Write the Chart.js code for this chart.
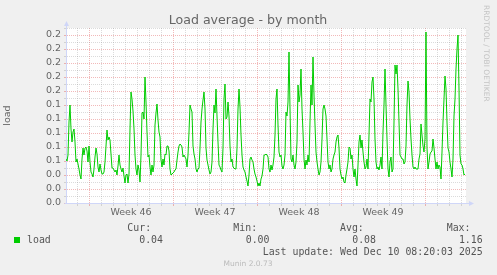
<!DOCTYPE html>
<html><head><meta charset="utf-8">
<script src="https://cdn.jsdelivr.net/npm/chart.js@4.4.1/dist/chart.umd.min.js"></script>
<style>html,body{margin:0;padding:0;background:#F0F0F0;overflow:hidden}canvas{display:block}</style>
</head><body>
<canvas id="c" width="497" height="275"></canvas>
<script>
// ---- data (2-hour samples, oldest first) ----
const loadValues = [
0.063,0.060,0.068,0.116,0.140,0.106,0.087,0.101,0.106,0.087,
0.059,0.063,0.056,0.049,0.040,0.034,0.063,0.078,0.068,0.079,
0.080,0.075,0.059,0.082,0.059,0.044,0.042,0.037,0.049,0.066,
0.079,0.070,0.051,0.044,0.056,0.047,0.042,0.042,0.044,0.059,
0.082,0.104,0.090,0.094,0.090,0.070,0.050,0.050,0.047,0.044,
0.047,0.040,0.053,0.069,0.055,0.049,0.044,0.050,0.039,0.028,
0.040,0.042,0.028,0.042,0.106,0.159,0.149,0.132,0.106,0.068,
0.049,0.040,0.054,0.047,0.030,0.068,0.128,0.130,0.120,0.180,
0.144,0.101,0.066,0.068,0.051,0.040,0.054,0.044,0.054,0.111,
0.128,0.142,0.118,0.101,0.094,0.061,0.051,0.063,0.054,0.070,
0.068,0.082,0.081,0.075,0.049,0.040,0.042,0.043,0.044,0.047,
0.049,0.061,0.073,0.082,0.085,0.083,0.080,0.066,0.068,0.066,
0.063,0.051,0.068,0.101,0.140,0.135,0.130,0.082,0.070,0.063,
0.049,0.044,0.049,0.050,0.078,0.116,0.135,0.147,0.159,0.135,
0.078,0.061,0.054,0.047,0.042,0.045,0.059,0.106,0.140,0.128,
0.163,0.125,0.087,0.054,0.051,0.047,0.044,0.078,0.149,0.170,
0.120,0.123,0.144,0.125,0.082,0.059,0.063,0.051,0.050,0.049,
0.049,0.078,0.135,0.163,0.137,0.097,0.068,0.051,0.047,0.044,
0.037,0.031,0.025,0.040,0.063,0.066,0.061,0.059,0.049,0.042,
0.037,0.032,0.025,0.029,0.025,0.034,0.039,0.049,0.068,0.068,
0.070,0.069,0.066,0.049,0.044,0.054,0.047,0.054,0.066,0.097,
0.149,0.163,0.111,0.073,0.066,0.068,0.053,0.049,0.055,0.068,
0.130,0.125,0.144,0.216,0.135,0.063,0.059,0.068,0.054,0.049,
0.059,0.087,0.168,0.144,0.154,0.192,0.135,0.101,0.063,0.049,
0.061,0.054,0.068,0.059,0.116,0.168,0.140,0.209,0.154,0.111,
0.073,0.059,0.049,0.040,0.044,0.059,0.092,0.135,0.140,0.134,
0.125,0.092,0.059,0.049,0.054,0.044,0.049,0.063,0.068,0.073,
0.087,0.094,0.097,0.078,0.049,0.040,0.035,0.037,0.030,0.028,
0.040,0.049,0.059,0.080,0.078,0.063,0.068,0.049,0.037,0.049,
0.035,0.025,0.054,0.087,0.097,0.078,0.090,0.073,0.059,0.049,
0.051,0.063,0.049,0.097,0.149,0.144,0.173,0.180,0.149,0.092,
0.059,0.049,0.051,0.047,0.054,0.066,0.049,0.101,0.140,0.192,
0.140,0.092,0.049,0.037,0.059,0.066,0.044,0.049,0.116,0.197,
0.185,0.197,0.163,0.116,0.068,0.066,0.063,0.063,0.056,0.059,
0.082,0.140,0.175,0.159,0.120,0.092,0.068,0.051,0.049,0.051,
0.049,0.049,0.049,0.063,0.070,0.113,0.097,0.082,0.073,0.092,
0.244,0.078,0.049,0.059,0.070,0.073,0.075,0.092,0.078,0.063,
0.049,0.059,0.049,0.054,0.051,0.035,0.073,0.116,0.149,0.182,
0.163,0.116,0.078,0.073,0.059,0.049,0.037,0.063,0.125,0.149,
0.192,0.220,0.240,0.163,0.068,0.056,0.054,0.049,0.040,0.042
];
const sampleHours = 2;                 // hours between samples
const spanHours = 800;                 // time span of graph in hours
const weekStartHours = [46, 214, 382, 550, 718]; // Monday 00:00, hours from start
const weekLabels = ['Week 46', 'Week 47', 'Week 48', 'Week 49'];
const yMax = 0.25;
const yStep = 0.01;
const seriesName = 'load';
const statLabels = ['Cur:', 'Min:', 'Avg:', 'Max:'];
const statValues = ['0.04', '0.00', '0.08', '1.16'];
const titleText = 'Load average - by month';
const yTitle = 'load';
const lastUpdate = 'Last update: Wed Dec 10 08:20:03 2025';
const footerText = 'Munin 2.0.73';
const watermark = 'RRDTOOL / TOBI OETIKER';

// ---- styling ----
const GRID = 'rgba(143,143,143,0.32)';
const MGRID = 'rgba(222,80,80,0.40)';
const AXIS = '#CFD6F8';
const FONT = '#666666';
const LINE = '#00CC00';
const SANS = '"DejaVu Sans", Verdana, sans-serif';
const MONO = '"DejaVu Sans Mono", monospace';

const points = loadValues.map((v, i) => ({x: i * sampleHours, y: v}));
const mod = (a, n) => ((a % n) + n) % n;

const xTickValues = [];
for (let h = mod(weekStartHours[0] - 36, 12); h < spanHours; h += 12) xTickValues.push(h);

function xLineColor(ctx) {
  const v = ctx.tick ? ctx.tick.value : null;
  if (v == null) return 'rgba(0,0,0,0)';
  if (mod(v - weekStartHours[0], 168) === 0) return MGRID;
  if (mod(v - weekStartHours[0], 24) === 0) return GRID;
  return 'rgba(0,0,0,0)';
}
function yLineColor(ctx) {
  const v = ctx.tick ? ctx.tick.value : null;
  if (v == null) return 'rgba(0,0,0,0)';
  const n = Math.round(v / yStep);
  return n % 2 === 0 ? MGRID : GRID;
}

const decor = {
  id: 'decor',
  beforeDraw(chart) {
    const {ctx, chartArea: a} = chart;
    ctx.save();
    ctx.fillStyle = '#F0F0F0';
    ctx.fillRect(0, 0, chart.width, chart.height);
    ctx.fillStyle = '#FFFFFF';
    ctx.fillRect(a.left, a.top, a.right - a.left, a.bottom - a.top);
    ctx.restore();
  },
  afterDraw(chart) {
    const {ctx, chartArea: a} = chart;
    ctx.save();
    // axis extensions + arrows
    ctx.strokeStyle = AXIS; ctx.fillStyle = AXIS; ctx.lineWidth = 1;
    const ax = Math.round(a.left) + 0.5, ay = Math.round(a.bottom) + 0.5;
    ctx.beginPath();
    ctx.moveTo(ax, a.top); ctx.lineTo(ax, a.top - 3);
    ctx.moveTo(a.right, ay); ctx.lineTo(a.right + 3, ay);
    ctx.moveTo(ax - 2, ay); ctx.lineTo(ax, ay);
    ctx.stroke();
    ctx.beginPath();
    ctx.moveTo(ax - 2.5, a.top - 2); ctx.lineTo(ax + 2.5, a.top - 2); ctx.lineTo(ax, a.top - 7); ctx.closePath(); ctx.fill();
    ctx.beginPath();
    ctx.moveTo(a.right + 3, ay - 2.5); ctx.lineTo(a.right + 3, ay + 2.5); ctx.lineTo(a.right + 8, ay); ctx.closePath(); ctx.fill();

    // title
    ctx.fillStyle = FONT;
    ctx.font = '12.6px ' + SANS;
    ctx.textAlign = 'center'; ctx.textBaseline = 'alphabetic';
    ctx.fillText(titleText, 248, 24);

    // watermark
    ctx.save();
    ctx.translate(484, 5);
    ctx.rotate(Math.PI / 2);
    ctx.fillStyle = '#C4C4C4';
    ctx.font = '7.5px ' + SANS;
    ctx.textAlign = 'left';
    ctx.fillText(watermark, 0, 0);
    ctx.restore();

    // legend
    ctx.fillStyle = LINE;
    ctx.fillRect(14, 237, 6, 6);
    ctx.fillStyle = '#555555';
    ctx.font = '9.9px ' + MONO;
    ctx.textAlign = 'left';
    ctx.fillText(seriesName, 27, 243);
    const labX = [127.3, 233.3, 340, 446.7];
    const valRight = [163, 269.5, 376, 482.7];
    statLabels.forEach((s, i) => { ctx.textAlign = 'left'; ctx.fillText(s, labX[i], 231); });
    statValues.forEach((s, i) => { ctx.textAlign = 'right'; ctx.fillText(s, valRight[i], 243); });
    ctx.textAlign = 'right';
    ctx.fillText(lastUpdate, 482.7, 255);

    // footer
    ctx.fillStyle = '#BBBBBB';
    ctx.font = '7.5px ' + SANS;
    ctx.textAlign = 'center';
    ctx.fillText(footerText, 248, 266);
    ctx.restore();
  }
};

new Chart(document.getElementById('c'), {
  type: 'line',
  data: {
    datasets: [{
      label: seriesName,
      data: points,
      borderColor: LINE,
      borderWidth: 1,
      pointRadius: 0,
      tension: 0,
      fill: false
    }]
  },
  options: {
    responsive: false,
    animation: false,
    devicePixelRatio: 1,
    layout: {padding: {top: 28, right: 31, left: 0, bottom: 0}},
    plugins: {legend: {display: false}, tooltip: {enabled: false}, title: {display: false}},
    scales: {
      x: {
        type: 'linear', min: 0, max: spanHours,
        alignToPixels: true,
        afterBuildTicks: s => { s.ticks = xTickValues.map(v => ({value: v})); },
        afterFit: s => { s.height = 72; s.paddingLeft = 0; s.paddingRight = 0; },
        ticks: {
          autoSkip: false, maxRotation: 0, minRotation: 0, padding: 1,
          color: FONT, font: {family: SANS, size: 9.5},
          callback: v => {
            const k = weekStartHours.indexOf(v - 84);
            return (k >= 0 && k < weekLabels.length) ? weekLabels[k] : '';
          }
        },
        grid: {color: xLineColor, tickColor: xLineColor, lineWidth: 1, tickLength: 3, drawTicks: true},
        border: {display: true, color: AXIS, width: 1, dash: [1, 1]}
      },
      y: {
        type: 'linear', min: 0, max: yMax,
        alignToPixels: true,
        afterFit: s => { s.width = 66; s.paddingTop = 0; s.paddingBottom = 0; },
        ticks: {
          stepSize: yStep, autoSkip: false, padding: 3,
          color: FONT, font: {family: SANS, size: 9.5},
          callback: v => (Math.round(v / yStep) % 2 === 0 && v < yMax - 1e-9) ? v.toFixed(1) : ''
        },
        grid: {color: yLineColor, tickColor: yLineColor, lineWidth: 1, tickLength: 2, drawTicks: true},
        border: {display: true, color: AXIS, width: 1, dash: [1, 1]},
        title: {display: true, text: yTitle, color: FONT, font: {family: SANS, size: 9.5}, padding: {top: 2, bottom: 0}}
      }
    }
  },
  plugins: [decor]
});
</script>
</body></html>
